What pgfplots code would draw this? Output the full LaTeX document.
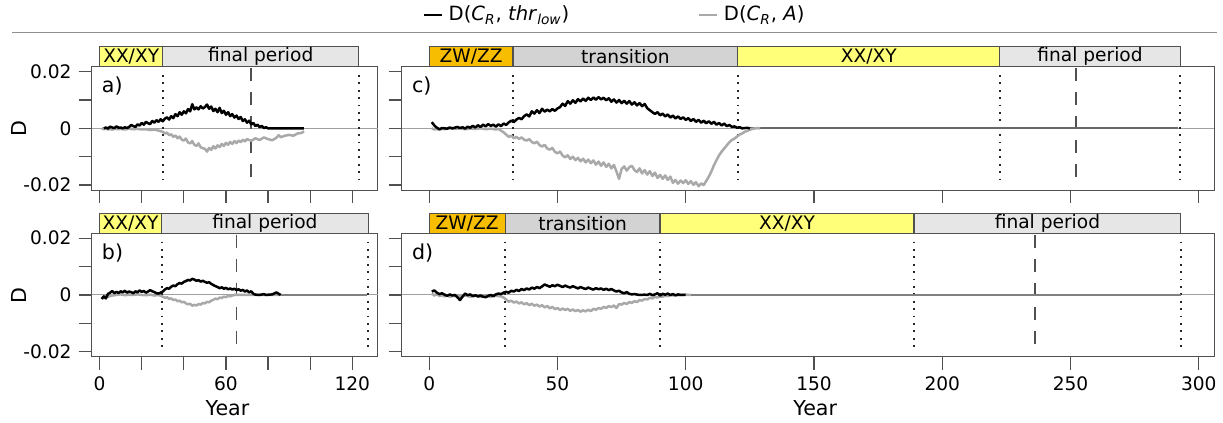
\documentclass[border=0pt]{standalone}
\usepackage{fontspec}
\setmainfont{DejaVu Sans}
\usepackage{pgfplots}
\pgfplotsset{compat=1.18}
\definecolor{bordergray}{HTML}{505050}
\definecolor{refgray}{HTML}{A0A0A0}
\definecolor{seriesgray}{HTML}{A9A9A9}
\definecolor{tailgray}{HTML}{686868}
\definecolor{zwcol}{HTML}{F7BD00}
\definecolor{xxcol}{HTML}{FFFF7A}
\definecolor{trcol}{HTML}{D3D3D3}
\definecolor{fpcol}{HTML}{E6E6E6}
\newcommand\tickfont{\fontsize{9.3}{11}\selectfont}
\newcommand\labfont{\fontsize{10.3}{12}\selectfont}
\newcommand{\vdot}[1]{\draw[black!85, line width=0.9pt, dash pattern=on 0.9pt off 2.8pt] (axis cs:#1,0.0188) -- (axis cs:#1,-0.0198);}
\newcommand{\vdsh}[1]{\draw[bordergray, line width=0.9pt, dash pattern=on 6.5pt off 5.5pt] (axis cs:#1,0.0213) -- (axis cs:#1,-0.0203);}
\newcommand{\period}[4]{\draw[bordergray, line width=0.6pt, fill=#4] (axis cs:#1,0.0217) rectangle (axis cs:#2,0.0288);
  \node[font=\tickfont, inner sep=0pt] at (axis cs:{0.5*(#1+#2)},0.02525) {#3};}
\newcommand{\zeroline}{\draw[refgray, line width=0.5pt] ({rel axis cs:0,0}|-{axis cs:0,0}) -- ({rel axis cs:1,0}|-{axis cs:0,0});}
\pgfplotsset{
  panel/.style={
    scale only axis, height=61.7pt,
    ymin=-0.0218, ymax=0.0217,
    clip=false,
    axis line style={draw=bordergray, line width=0.6pt},
    tick style={draw=bordergray, line width=0.6pt},
    tick align=outside, major tick length=6.5pt,
    xtick pos=bottom, ytick pos=left,
    ytick={-0.02,-0.01,0,0.01,0.02},
    yticklabels={},
    xticklabels={},
    tick label style={font=\tickfont, text=black},
    label style={font=\labfont},
    /pgf/number format/assume math mode=true,
    scaled y ticks=false, scaled x ticks=false,
    minor tick num=0,
  },
  small/.style={panel, width=143pt, xmin=-3.8, xmax=132.0, xtick={0,20,...,120}},
  big/.style={panel, width=406.3pt, xmin=-10.76, xmax=306.0, xtick={0,50,...,300}},
  blk/.style={black, line width=1.25pt, line join=round, forget plot},
  gry/.style={seriesgray, line width=1.25pt, line join=round, forget plot},
  tail/.style={tailgray, line width=1.1pt, forget plot},
}
\begin{document}
\begin{tikzpicture}
\useasboundingbox (0,0) rectangle (611.5pt,-211.5pt);
% ---------------- panel a
\begin{axis}[small, at={(45.8pt,-33.4pt)}, anchor=north west,
  yticklabels={-0.02,,0,,0.02},
  ylabel={D}, ylabel style={at={(axis description cs:-0.254,0.5)}, anchor=center},
  legend columns=2,
  legend style={at={(axis description cs:1.1552,1.4198)}, anchor=west, draw=none, fill=none, inner sep=0pt,
     nodes={inner sep=0.7pt}, font=\fontsize{9.8}{11}\selectfont},
  legend image code/.code={\draw[#1] (0pt,0pt) -- (9pt,0pt);},
]
\addlegendimage{black, line width=1.25pt}
\addlegendentry{\makebox[126pt][l]{\hspace{2.2pt}D(\textit{C}\textsubscript{\textit{R}}, \textit{thr}\textsubscript{\textit{low}})}}
\addlegendimage{seriesgray, line width=1.25pt}
\addlegendentry{\makebox[47.5pt][l]{\hspace{2.2pt}D(\textit{C}\textsubscript{\textit{R}}, \textit{A})}}
\period{0}{30}{XX/XY}{xxcol}
\period{30}{123}{final period}{fpcol}
\zeroline
\vdot{30}\vdot{123}\vdsh{72}
\addplot[gry] coordinates {
(1,0)(2,-0.0003)(3,-0.0001)(4,-0.0004)(5,-0.0002)(6,-0.0005)(7,-0.0001)(8,-0.0003)(10,-0.0002)(12,-0.0004)(14,-0.0001)(16,-0.0003)(18,-0.0002)(20,-0.0004)(22,-0.0003)(24,-0.0006)(26,-0.0004)(28,-0.0008)
(30,-0.0012)(31,-0.0018)(32,-0.0015)(33,-0.0024)(34,-0.0021)(35,-0.0030)(36,-0.0025)(37,-0.0035)(38,-0.0029)(39,-0.0040)(40,-0.0043)(41,-0.0036)(42,-0.0050)(43,-0.0053)(44,-0.0045)(45,-0.0058)(46,-0.0062)(47,-0.0053)(48,-0.0067)(49,-0.0070)
(50,-0.0072)(51,-0.0082)(52,-0.0069)(53,-0.0076)(54,-0.0063)(55,-0.0071)(56,-0.0060)(57,-0.0066)(58,-0.0055)(59,-0.0062)(60,-0.0051)(61,-0.0058)(62,-0.0048)(63,-0.0055)(64,-0.0045)(65,-0.0052)(66,-0.0043)(67,-0.0049)(68,-0.0040)(69,-0.0046)
(70,-0.0038)(72,-0.0044)(74,-0.0035)(76,-0.0041)(78,-0.0032)(80,-0.0038)(82,-0.0042)(84,-0.0033)(85,-0.0024)(86,-0.0031)(88,-0.0026)(90,-0.0023)(92,-0.0026)(94,-0.0018)(96,-0.0016)(97,-0.0010)};
\addplot[blk] coordinates {
(2,0)(3,0.0003)(4,-0.0001)(5,0.0006)(6,0.0003)(7,0.0001)(8,0.0007)(9,0.0002)(10,0.0003)(11,0)(12,0.0004)(13,0.0001)(14,0.0005)(15,0.0012)(16,0.0008)(17,0.0005)(18,0.0014)(19,0.0010)
(20,0.0019)(21,0.0013)(22,0.0023)(23,0.0018)(24,0.0015)(25,0.0026)(26,0.0020)(27,0.0029)(28,0.0023)(29,0.0032)(30,0.0025)(31,0.0034)(32,0.0039)(33,0.0031)(34,0.0043)(35,0.0036)(36,0.0050)(37,0.0043)(38,0.0057)(39,0.0048)
(40,0.0060)(41,0.0053)(42,0.0068)(43,0.0060)(44,0.0085)(45,0.0067)(46,0.0074)(47,0.0067)(48,0.0078)(49,0.0070)(50,0.0075)(51,0.0084)(52,0.0069)(53,0.0077)(54,0.0061)(55,0.0069)(56,0.0057)(57,0.0072)(58,0.0054)(59,0.0062)
(60,0.0048)(61,0.0057)(62,0.0043)(63,0.0050)(64,0.0038)(65,0.0045)(66,0.0033)(67,0.0040)(68,0.0026)(69,0.0032)(70,0.0020)(71,0.0027)(72,0.0014)(73,0.0019)(74,0.0008)(75,0.0013)(76,0.0004)(77,0.0009)(78,0.0001)(79,0.0004)(80,0)(97,0)};
\node[font=\labfont, anchor=north west, inner sep=0pt] at (rel axis cs:0,1) [xshift=5pt, yshift=-5pt] {a)};
\end{axis}
% ---------------- panel c
\begin{axis}[big, at={(200.8pt,-33.4pt)}, anchor=north west]
\period{0}{32.7}{ZW/ZZ}{zwcol}
\period{32.7}{120.3}{transition}{trcol}
\period{120.3}{222.4}{XX/XY}{xxcol}
\period{222.4}{292.8}{final period}{fpcol}
\zeroline
\vdot{32.7}\vdot{120.3}\vdot{222.4}\vdot{292.8}\vdsh{252}
\addplot[tail] coordinates {(125,0)(292,0)};
\addplot[gry] coordinates {
(1,0)(2,-0.0004)(3,-0.0002)(4,-0.0005)(5,-0.0001)(6,-0.0003)(8,0)(10,-0.0002)(12,0)(14,-0.0003)(16,-0.0001)(18,-0.0002)(20,0)(22,-0.0003)(24,-0.0001)(26,-0.0004)(27,-0.0002)
(28,-0.0008)(29,-0.0014)(30,-0.0022)(31,-0.0030)(32,-0.0026)(33,-0.0035)(34,-0.0030)(35,-0.0037)(36,-0.0032)(37,-0.0040)(38,-0.0043)(39,-0.0038)(40,-0.0048)(41,-0.0053)(42,-0.0047)(43,-0.0059)(44,-0.0064)(45,-0.0058)(46,-0.0071)(47,-0.0075)(48,-0.0069)(49,-0.0083)
(50,-0.0088)(51,-0.0082)(52,-0.0096)(53,-0.0102)(54,-0.0095)(55,-0.0108)(56,-0.0100)(57,-0.0112)(58,-0.0104)(59,-0.0116)(60,-0.0107)(61,-0.0120)(62,-0.0110)(63,-0.0123)(64,-0.0113)(65,-0.0128)(66,-0.0117)(67,-0.0132)(68,-0.0120)(69,-0.0136)
(70,-0.0125)(71,-0.0141)(72,-0.0129)(73,-0.0152)(74,-0.0178)(75,-0.0143)(76,-0.0134)(77,-0.0149)(78,-0.0137)(79,-0.0132)(80,-0.0147)(81,-0.0154)(82,-0.0141)(83,-0.0159)(84,-0.0147)(85,-0.0163)(86,-0.0151)(87,-0.0168)(88,-0.0156)(89,-0.0175)
(90,-0.0164)(91,-0.0178)(92,-0.0166)(93,-0.0182)(94,-0.0170)(95,-0.0192)(96,-0.0182)(97,-0.0195)(98,-0.0184)(99,-0.0193)(100,-0.0183)(101,-0.0196)(102,-0.0186)(103,-0.0199)(104,-0.0190)(105,-0.0204)(106,-0.0194)(107,-0.0200)(108,-0.0185)(109,-0.0170)
(110,-0.0152)(111,-0.0130)(112,-0.0112)(113,-0.0095)(114,-0.0082)(115,-0.0071)(116,-0.0060)(117,-0.0049)(118,-0.0041)(119,-0.0036)(120,-0.0029)(121,-0.0022)(122,-0.0018)(123,-0.0012)(124,-0.0009)(125,-0.0005)(126,-0.0002)(127,0)(128,0.0001)(129,0)};
\addplot[blk] coordinates {
(1,0.0022)(2,0.0010)(3,0.0002)(4,-0.0003)(5,0.0001)(7,-0.0001)(8,0.0003)(9,0)(11,0.0005)(12,0.0001)(13,0.0004)(14,-0.0001)(15,0.0006)(16,0.0002)(17,0.0009)(18,0.0003)(19,0.0011)
(20,0.0005)(21,0.0013)(22,0.0007)(23,0.0015)(24,0.0009)(25,0.0013)(26,0.0006)(27,0.0014)(28,0.0008)(29,0.0017)(30,0.0012)(31,0.0021)(32,0.0027)(33,0.0022)(34,0.0031)(35,0.0037)(36,0.0032)(37,0.0043)(38,0.0049)(39,0.0042)
(40,0.0060)(41,0.0052)(42,0.0064)(43,0.0054)(44,0.0069)(45,0.0059)(46,0.0066)(47,0.0060)(48,0.0068)(49,0.0062)(50,0.0070)(51,0.0075)(52,0.0087)(53,0.0079)(54,0.0096)(55,0.0087)(56,0.0099)(57,0.0090)(58,0.0103)(59,0.0095)
(60,0.0105)(61,0.0097)(62,0.0108)(63,0.0100)(64,0.0109)(65,0.0101)(66,0.0110)(67,0.0102)(68,0.0108)(69,0.0099)(70,0.0106)(71,0.0094)(72,0.0102)(73,0.0091)(74,0.0100)(75,0.0089)(76,0.0097)(77,0.0087)(78,0.0096)(79,0.0084)
(80,0.0092)(81,0.0081)(82,0.0089)(83,0.0078)(84,0.0086)(85,0.0071)(86,0.0064)(87,0.0057)(88,0.0051)(89,0.0057)(90,0.0046)(91,0.0052)(92,0.0042)(93,0.0049)(94,0.0038)(95,0.0045)(96,0.0035)(97,0.0042)(98,0.0033)(99,0.0039)
(100,0.0030)(101,0.0036)(102,0.0026)(103,0.0033)(104,0.0023)(105,0.0030)(106,0.0020)(107,0.0027)(108,0.0018)(109,0.0025)(110,0.0016)(111,0.0023)(112,0.0013)(113,0.0019)(114,0.0010)(115,0.0017)(116,0.0008)(117,0.0012)(118,0.0005)(119,0.0007)
(120,0.0002)(121,0.0004)(122,0)(124,0.0002)(125,0)};
\node[font=\labfont, anchor=north west, inner sep=0pt] at (rel axis cs:0,1) [xshift=5pt, yshift=-5pt] {c)};
\end{axis}
% ---------------- panel b
\begin{axis}[small, at={(45.8pt,-116.7pt)}, anchor=north west,
  yticklabels={-0.02,,0,,0.02},
  xticklabels={0,,,60,,,120},
  ylabel={D}, ylabel style={at={(axis description cs:-0.254,0.5)}, anchor=center},
  xlabel={Year}, xlabel style={at={(axis description cs:0.475,-0.4165)}, anchor=center},
]
\period{0}{29.5}{XX/XY}{xxcol}
\period{29.5}{127.5}{final period}{fpcol}
\zeroline
\vdot{29.5}\vdot{127.5}\vdsh{65}
\addplot[tail, color=gray] coordinates {(86,0)(127,0)};
\addplot[gry] coordinates {
(1,-0.0008)(2,-0.0012)(3,-0.0004)(4,-0.0006)(6,-0.0002)(8,0)(10,0.0002)(12,-0.0001)(14,0.0001)(16,0)(18,0.0002)(20,0)(22,-0.0001)(24,0.0001)(26,-0.0002)(28,0)
(30,-0.0006)(31,-0.0010)(32,-0.0008)(33,-0.0014)(34,-0.0012)(35,-0.0018)(36,-0.0016)(37,-0.0022)(38,-0.0020)(39,-0.0026)(40,-0.0024)(41,-0.0030)(42,-0.0033)(43,-0.0031)(44,-0.0038)(45,-0.0035)(46,-0.0037)(47,-0.0032)(48,-0.0034)(49,-0.0028)
(50,-0.0030)(51,-0.0024)(52,-0.0026)(53,-0.0020)(54,-0.0017)(55,-0.0013)(56,-0.0015)(57,-0.0009)(58,-0.0011)(59,-0.0006)(60,-0.0008)(61,-0.0003)(62,-0.0005)(63,-0.0002)(64,0)(86,0)};
\addplot[blk] coordinates {
(1,-0.0014)(2,-0.0005)(3,-0.0012)(4,0.0004)(5,0.0008)(6,0.0014)(7,0.0006)(8,0.0011)(9,0.0007)(10,0.0013)(11,0.0009)(12,0.0015)(13,0.0008)(14,0.0012)(15,0.0010)(16,0.0006)(17,0.0013)(18,0.0009)(19,0.0016)
(20,0.0011)(21,0.0014)(22,0.0008)(23,0.0012)(24,0.0017)(25,0.0013)(26,0.0010)(27,0.0006)(28,0.0005)(29,0.0008)(30,0.0012)(31,0.0019)(32,0.0024)(33,0.0022)(34,0.0029)(35,0.0033)(36,0.0031)(37,0.0038)(38,0.0042)(39,0.0040)
(40,0.0046)(41,0.0049)(42,0.0053)(43,0.0051)(44,0.0057)(45,0.0054)(46,0.0050)(47,0.0052)(48,0.0047)(49,0.0050)(50,0.0046)(51,0.0043)(52,0.0045)(53,0.0039)(54,0.0035)(55,0.0031)(56,0.0028)(57,0.0024)(58,0.0027)(59,0.0022)
(60,0.0025)(61,0.0020)(62,0.0023)(63,0.0019)(64,0.0022)(65,0.0017)(66,0.0020)(67,0.0015)(68,0.0018)(69,0.0012)(70,0.0016)(71,0.0009)(72,0.0013)(73,0.0004)(74,0.0001)(76,0)(78,0.0003)(79,0)(82,0.0002)(84,0.0009)(85,0.0004)(86,0)};
\node[font=\labfont, anchor=north west, inner sep=0pt] at (rel axis cs:0,1) [xshift=5pt, yshift=-5pt] {b)};
\end{axis}
% ---------------- panel d
\begin{axis}[big, at={(200.8pt,-116.7pt)}, anchor=north west,
  xticklabels={0,50,100,150,200,250,300},
  xlabel={Year}, xlabel style={at={(axis description cs:0.509,-0.4165)}, anchor=center},
]
\period{0}{29.6}{ZW/ZZ}{zwcol}
\period{29.6}{90}{transition}{trcol}
\period{90}{189}{XX/XY}{xxcol}
\period{189}{293}{final period}{fpcol}
\zeroline
\vdot{29.6}\vdot{90}\vdot{189}\vdot{293}\vdsh{236}
\addplot[tail, color=gray] coordinates {(100,0)(293,0)};
\addplot[gry] coordinates {
(1,0.0005)(2,-0.0002)(3,0.0003)(4,-0.0004)(5,-0.0001)(6,-0.0005)(7,-0.0002)(8,-0.0006)(10,-0.0003)(12,-0.0005)(14,-0.0002)(16,-0.0006)(18,-0.0003)(20,-0.0007)(22,-0.0004)(24,-0.0006)(26,-0.0003)(28,-0.0005)(29,-0.0009)
(30,-0.0016)(31,-0.0024)(32,-0.0020)(33,-0.0027)(34,-0.0023)(35,-0.0030)(36,-0.0026)(37,-0.0033)(38,-0.0029)(39,-0.0036)(40,-0.0031)(41,-0.0038)(42,-0.0034)(43,-0.0041)(44,-0.0036)(45,-0.0044)(46,-0.0039)(47,-0.0047)(48,-0.0042)(49,-0.0050)
(50,-0.0046)(51,-0.0053)(52,-0.0048)(53,-0.0053)(54,-0.0049)(55,-0.0056)(56,-0.0051)(57,-0.0057)(58,-0.0053)(59,-0.0059)(60,-0.0054)(61,-0.0058)(62,-0.0052)(63,-0.0057)(64,-0.0049)(65,-0.0052)(66,-0.0046)(67,-0.0049)(68,-0.0042)(69,-0.0046)
(70,-0.0039)(71,-0.0043)(72,-0.0037)(73,-0.0046)(74,-0.0032)(75,-0.0034)(76,-0.0028)(77,-0.0032)(78,-0.0025)(79,-0.0028)(80,-0.0022)(81,-0.0025)(82,-0.0018)(83,-0.0020)(84,-0.0014)(85,-0.0016)(86,-0.0010)(87,-0.0012)(88,-0.0007)(89,-0.0009)
(90,-0.0005)(91,-0.0006)(92,-0.0003)(93,-0.0004)(94,-0.0001)(96,-0.0002)(98,0)(100,0.0001)(102,0)};
\addplot[blk] coordinates {
(1,0.0012)(2,0.0016)(3,0.0008)(4,0.0003)(5,0.0006)(6,0.0001)(7,-0.0003)(8,0.0002)(9,-0.0002)(10,0)(11,-0.0008)(12,-0.0018)(13,-0.0006)(14,0.0005)(15,-0.0001)(16,0.0002)(17,-0.0004)(18,-0.0001)(19,-0.0005)
(20,-0.0002)(21,-0.0006)(22,-0.0008)(23,-0.0003)(24,0)(25,-0.0004)(26,0.0002)(27,0.0005)(28,0.0003)(29,0.0008)(30,0.0011)(31,0.0008)(32,0.0015)(33,0.0012)(34,0.0018)(35,0.0014)(36,0.0021)(37,0.0017)(38,0.0023)(39,0.0019)
(40,0.0026)(41,0.0022)(42,0.0028)(43,0.0024)(44,0.0030)(45,0.0037)(46,0.0033)(47,0.0029)(48,0.0034)(49,0.0031)(50,0.0036)(51,0.0032)(52,0.0028)(53,0.0033)(54,0.0029)(55,0.0026)(56,0.0031)(57,0.0027)(58,0.0023)(59,0.0028)
(60,0.0024)(61,0.0021)(62,0.0026)(63,0.0022)(64,0.0019)(65,0.0024)(66,0.0020)(67,0.0023)(68,0.0018)(69,0.0022)(70,0.0017)(71,0.0021)(72,0.0016)(73,0.0012)(74,0.0015)(75,0.0009)(76,0.0006)(77,0.0010)(78,0.0004)(79,0.0002)
(80,0.0003)(82,0)(84,0.0001)(85,0)(86,0.0004)(87,-0.0001)(88,0.0002)(89,0.0006)(90,-0.0002)(91,0.0004)(92,0.0001)(93,0.0005)(94,0)(95,0.0003)(96,-0.0001)(97,0.0002)(98,0)(100,0)};
\node[font=\labfont, anchor=north west, inner sep=0pt] at (rel axis cs:0,1) [xshift=5pt, yshift=-5pt] {d)};
\end{axis}
\draw[refgray!90!black, line width=0.6pt] (6pt,-16.1pt) -- (608.5pt,-16.1pt);
\end{tikzpicture}
\end{document}
